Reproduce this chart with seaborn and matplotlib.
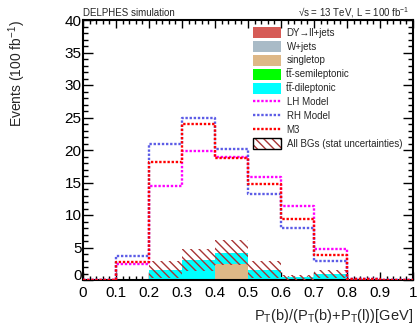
import numpy as np
import pandas as pd
import matplotlib
matplotlib.use("Agg")
import matplotlib.pyplot as plt
from matplotlib.patches import Patch
from matplotlib.lines import Line2D
from matplotlib.ticker import MultipleLocator, FuncFormatter
import seaborn as sns

# ---------------- data ----------------
bin_edges = [0.0, 0.1, 0.2, 0.3, 0.4, 0.5, 0.6, 0.7, 0.8, 0.9, 1.0]
bg_names = ["DY\u2192ll+jets", "W+jets", "singletop", "t\u0305t-semileptonic", "t\u0305t-dileptonic"]
dy       = [0, 0, 0,   0,   0,   0,   0,   0,   0,    0]
wjets    = [0, 0, 0,   0,   0,   0,   0,   0,   0,    0]
singletop= [0, 0, 0,   0,   2.4, 0,   0,   0,   0,    0]
semilep  = [0, 0, 0,   0,   0,   0,   0,   0,   0,    0]
dilep    = [0, 0, 1.6, 3.1, 1.8, 1.6, 0.4, 0.9, 0.05, 0]
bg_err   = [0, 0, 1.3, 1.7, 1.9, 1.3, 0.4, 0.6, 0.1,  0]
lh_model = [0, 2.4, 14.5, 19.9, 18.9, 15.8, 11.4, 4.7, 0.15, 0]
rh_model = [0, 3.7, 20.9, 24.9, 20.2, 13.2, 8.0,  2.9, 0.15, 0]
m3_model = [0, 2.7, 18.2, 24.0, 18.8, 14.8, 9.4,  3.8, 0.15, 0]
x_ticks = [0, 0.1, 0.2, 0.3, 0.4, 0.5, 0.6, 0.7, 0.8, 0.9, 1]
y_ticks = [0, 5, 10, 15, 20, 25, 30, 35, 40]

bg_colors = {bg_names[0]: "#d65c57", bg_names[1]: "#a9bbc7", bg_names[2]: "#deb887",
             bg_names[3]: "#00ff00", bg_names[4]: "#00ffff"}
hatch_col = "#a83434"

# ---------------- style ----------------
sns.set_style("ticks")
plt.rcParams["font.family"] = ["Liberation Sans", "DejaVu Sans"]
plt.rcParams["mathtext.fontset"] = "custom"
plt.rcParams["mathtext.rm"] = "Liberation Sans"
plt.rcParams["mathtext.it"] = "Liberation Sans:italic"
plt.rcParams["mathtext.bf"] = "Liberation Sans:bold"
plt.rcParams["hatch.linewidth"] = 1.0

W, H = 417, 328
fig = plt.figure(figsize=(W / 100, H / 100), dpi=100)
L, R, T, B = 83, 413, 20, 280
ax = fig.add_axes([L / W, 1 - B / H, (R - L) / W, (B - T) / H])

edges = np.array(bin_edges)
centers = (edges[:-1] + edges[1:]) / 2

# stacked backgrounds
series = [dy, wjets, singletop, semilep, dilep]
rows = []
for name, vals in zip(bg_names, series):
    for c, v in zip(centers, vals):
        rows.append({"x": float(c), "w": float(v), "proc": name})
df_bg = pd.DataFrame(rows)
# seaborn stacks last hue level at the bottom
stack_order = [bg_names[4], bg_names[3], bg_names[2], bg_names[1], bg_names[0]]
sns.histplot(data=df_bg, x="x", weights="w", hue="proc", hue_order=stack_order,
             bins=bin_edges, multiple="stack", element="step", fill=True,
             palette=bg_colors, alpha=1, linewidth=0, legend=False, ax=ax)

# error band (total +- stat)
total = np.array(dy) + np.array(wjets) + np.array(singletop) + np.array(semilep) + np.array(dilep)
err = np.array(bg_err)
ax.bar(centers, 2 * err, bottom=total - err, width=np.diff(edges), fill=False,
       hatch="\\\\\\\\", edgecolor=hatch_col, linewidth=0, zorder=3)

# signal models
dot = (0, (1, 0.75))
models = [("LH Model", lh_model, "#ff00ff"), ("RH Model", rh_model, "#5c5ce6"), ("M3", m3_model, "#ff0000")]
for name, vals, col in models:
    dfm = pd.DataFrame({"x": centers, "w": vals})
    sns.histplot(data=dfm, x="x", weights="w", bins=bin_edges, element="step", fill=False,
                 color=col, linewidth=1.7, linestyle=dot, ax=ax, zorder=4)

ax.set_xlim(0, 1)
ax.set_ylim(0, 40)
ax.set_xlabel("")
ax.set_ylabel("")
ax.xaxis.set_major_locator(MultipleLocator(0.1))
ax.xaxis.set_minor_locator(MultipleLocator(0.02))
ax.yaxis.set_major_locator(MultipleLocator(5))
ax.yaxis.set_minor_locator(MultipleLocator(1))
ax.xaxis.set_major_formatter(FuncFormatter(lambda v, p: f"{v:g}"))
ax.yaxis.set_major_formatter(FuncFormatter(lambda v, p: f"{v:g}"))
ax.tick_params(which="both", direction="in", top=True, right=True, width=1.0, colors="black")
ax.tick_params(axis="x", which="major", length=5.5, pad=4, labelsize=11)
ax.tick_params(axis="x", which="minor", length=2.8)
ax.tick_params(axis="y", which="major", length=7.5, pad=1, labelsize=11)
ax.tick_params(axis="y", which="minor", length=3.8)
for s in ax.spines.values():
    s.set_linewidth(1.5)
    s.set_color("black")
# raise the y "0" label a little so it does not collide with the x "0"
for lab in ax.get_yticklabels():
    if lab.get_text() == "0":
        lab.set_va("baseline")

# texts
fig.text(83 / W, 1 - 16.5 / H, "DELPHES simulation", fontsize=7, ha="left", va="baseline")
fig.text(409 / W, 1 - 16.5 / H, "\u221as = 13 TeV, L = 100 fb$^{-1}$", fontsize=7,
         ha="right", va="baseline")
fig.text(17 / W, 1 - 20 / H, "Events (100 fb$^{-1}$)", fontsize=10, rotation=90,
         ha="center", va="top")
fig.text(413 / W, 1 - 320 / H,
         "P$_\\mathrm{T}$(b)/(P$_\\mathrm{T}$(b)+P$_\\mathrm{T}$(l))[GeV]",
         fontsize=10.5, ha="right", va="baseline")

# legend
handles = [Patch(facecolor=bg_colors[n], edgecolor="none") for n in bg_names]
handles += [Line2D([], [], color=c, linewidth=1.7, linestyle=dot) for _, _, c in models]
handles.append((Patch(facecolor="white", edgecolor=hatch_col, hatch="\\\\\\\\", linewidth=0),
                Patch(facecolor="none", edgecolor="black", linewidth=1.0)))
labels = bg_names + [m[0] for m in models] + ["All BGs (stat uncertainties)"]
fig.legend(handles, labels, loc="upper left", bbox_to_anchor=(253 / W, 1 - 27 / H),
           frameon=False, fontsize=7, handlelength=2.9, handleheight=1.35,
           labelspacing=0.3, handletextpad=0.55, borderpad=0, borderaxespad=0)

fig.savefig("out.png", dpi=100)
